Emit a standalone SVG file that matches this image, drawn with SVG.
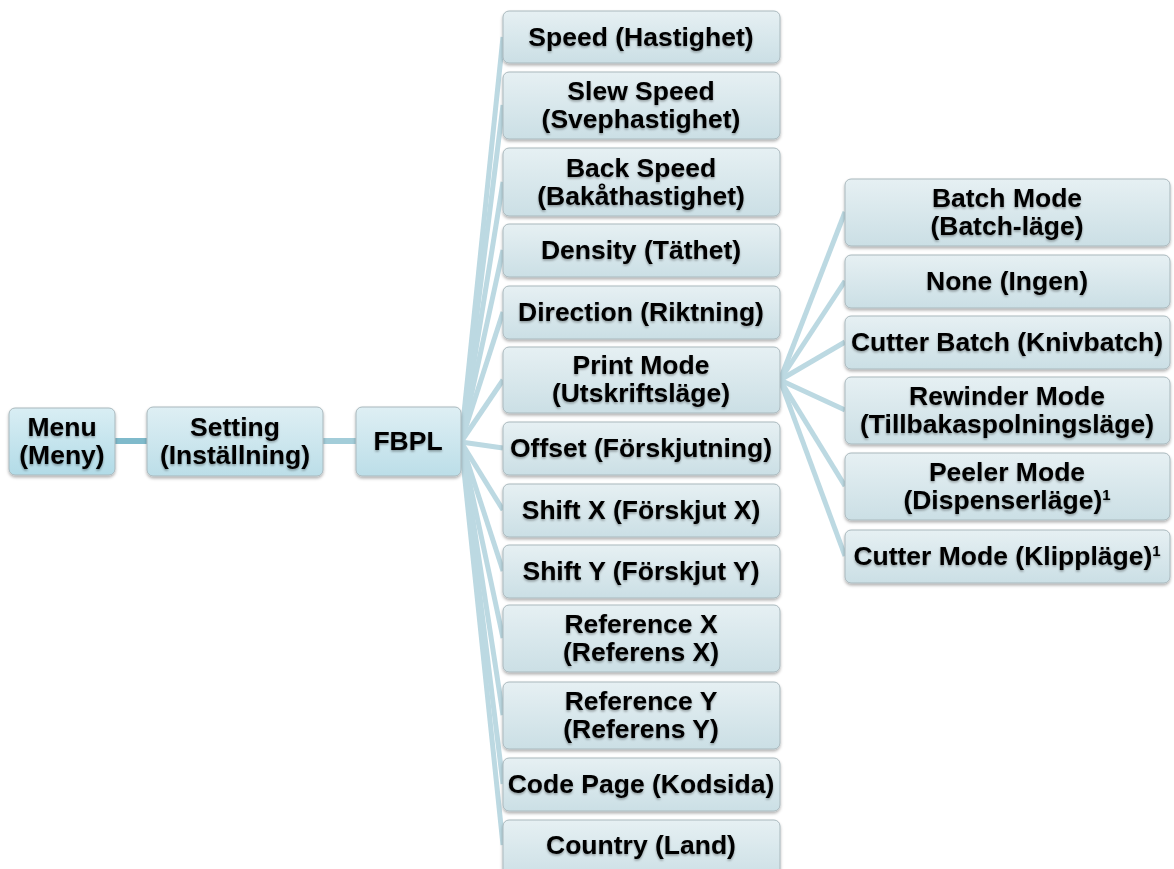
<svg xmlns="http://www.w3.org/2000/svg" width="1174" height="869" viewBox="0 0 1174 869">
<defs>
<linearGradient id="gTop" x1="0" y1="0" x2="0" y2="1">
<stop offset="0" stop-color="#d9eef4"/>
<stop offset="1" stop-color="#b2dbe7"/>
</linearGradient>
<linearGradient id="gMid" x1="0" y1="0" x2="0" y2="1">
<stop offset="0" stop-color="#deeff4"/>
<stop offset="1" stop-color="#bcdee8"/>
</linearGradient>
<linearGradient id="gLeaf" x1="0" y1="0" x2="0" y2="1">
<stop offset="0" stop-color="#e6f0f3"/>
<stop offset="1" stop-color="#cbdfe5"/>
</linearGradient>
<filter id="sh" x="-10%" y="-20%" width="120%" height="150%">
<feDropShadow dx="0" dy="2" stdDeviation="1.5" flood-color="#000" flood-opacity="0.3"/>
</filter>
<filter id="tsh" x="-5%" y="-20%" width="110%" height="150%">
<feDropShadow dx="0" dy="1.5" stdDeviation="1.3" flood-color="#000" flood-opacity="0.35"/>
</filter>
</defs>
<style>
.box{stroke:#a9b8bd;stroke-width:1;filter:url(#sh)}
.top{fill:url(#gTop)}
.mid{fill:url(#gMid)}
.leaf{fill:url(#gLeaf)}
text{font-family:"Liberation Sans",Arial,sans-serif;font-weight:bold;font-size:26.5px;fill:#000;text-anchor:middle;filter:url(#tsh)}
.sup{font-size:15px}
.c1{stroke:#7fbacb;stroke-width:6;fill:none}
.c2{stroke:#a3cdd9;stroke-width:6;fill:none}
.c3{stroke:#bcd9e2;stroke-width:5;fill:none}
</style>
<rect width="1174" height="869" fill="#fff"/>
<g id="connectors">
<line class="c1" x1="115" y1="441" x2="147" y2="441"/>
<line class="c2" x1="323" y1="441" x2="356" y2="441"/>
<line class="c3" x1="461" y1="442" x2="503" y2="37"/>
<line class="c3" x1="461" y1="442" x2="503" y2="105"/>
<line class="c3" x1="461" y1="442" x2="503" y2="182"/>
<line class="c3" x1="461" y1="442" x2="503" y2="250"/>
<line class="c3" x1="461" y1="442" x2="503" y2="312"/>
<line class="c3" x1="461" y1="442" x2="503" y2="380"/>
<line class="c3" x1="461" y1="442" x2="503" y2="448"/>
<line class="c3" x1="461" y1="442" x2="503" y2="510"/>
<line class="c3" x1="461" y1="442" x2="503" y2="571"/>
<line class="c3" x1="461" y1="442" x2="503" y2="638"/>
<line class="c3" x1="461" y1="442" x2="503" y2="715"/>
<line class="c3" x1="461" y1="442" x2="503" y2="784"/>
<line class="c3" x1="461" y1="442" x2="503" y2="845"/>
<line class="c3" x1="780" y1="380" x2="845" y2="212"/>
<line class="c3" x1="780" y1="380" x2="845" y2="281"/>
<line class="c3" x1="780" y1="380" x2="845" y2="342"/>
<line class="c3" x1="780" y1="380" x2="845" y2="410"/>
<line class="c3" x1="780" y1="380" x2="845" y2="486"/>
<line class="c3" x1="780" y1="380" x2="845" y2="556"/>
</g>
<g id="menu"><rect class="box top" x="9" y="408" width="106" height="67" rx="6"/><text x="62" y="436">Menu</text><text x="62" y="464">(Meny)</text></g>
<g id="setting"><rect class="box mid" x="147" y="407" width="176" height="69" rx="6"/><text x="235" y="436">Setting</text><text x="235" y="464">(Inställning)</text></g>
<g id="fbpl"><rect class="box mid" x="356" y="407" width="105" height="69" rx="6"/><text x="408" y="450">FBPL</text></g>
<g id="speed"><rect class="box leaf" x="503" y="11" width="277" height="52" rx="6"/><text x="641" y="46">Speed (Hastighet)</text></g>
<g id="slew"><rect class="box leaf" x="503" y="72" width="277" height="67" rx="6"/><text x="641" y="100">Slew Speed</text><text x="641" y="128">(Svephastighet)</text></g>
<g id="back"><rect class="box leaf" x="503" y="148" width="277" height="68" rx="6"/><text x="641" y="177">Back Speed</text><text x="641" y="205">(Bakåthastighet)</text></g>
<g id="density"><rect class="box leaf" x="503" y="224" width="277" height="53" rx="6"/><text x="641" y="259">Density (Täthet)</text></g>
<g id="direction"><rect class="box leaf" x="503" y="286" width="277" height="53" rx="6"/><text x="641" y="321">Direction (Riktning)</text></g>
<g id="printmode"><rect class="box leaf" x="503" y="347" width="277" height="66" rx="6"/><text x="641" y="374">Print Mode</text><text x="641" y="402">(Utskriftsläge)</text></g>
<g id="offset"><rect class="box leaf" x="503" y="422" width="277" height="53" rx="6"/><text x="641" y="457">Offset (Förskjutning)</text></g>
<g id="shiftx"><rect class="box leaf" x="503" y="484" width="277" height="53" rx="6"/><text x="641" y="519">Shift X (Förskjut X)</text></g>
<g id="shifty"><rect class="box leaf" x="503" y="545" width="277" height="53" rx="6"/><text x="641" y="580">Shift Y (Förskjut Y)</text></g>
<g id="refx"><rect class="box leaf" x="503" y="605" width="277" height="67" rx="6"/><text x="641" y="633">Reference X</text><text x="641" y="661">(Referens X)</text></g>
<g id="refy"><rect class="box leaf" x="503" y="682" width="277" height="67" rx="6"/><text x="641" y="710">Reference Y</text><text x="641" y="738">(Referens Y)</text></g>
<g id="codepage"><rect class="box leaf" x="503" y="758" width="277" height="53" rx="6"/><text x="641" y="793">Code Page (Kodsida)</text></g>
<g id="country"><rect class="box leaf" x="503" y="820" width="277" height="60" rx="6"/><text x="641" y="854">Country (Land)</text></g>
<g id="batch"><rect class="box leaf" x="845" y="179" width="325" height="67" rx="6"/><text x="1007" y="207">Batch Mode</text><text x="1007" y="235">(Batch-läge)</text></g>
<g id="none"><rect class="box leaf" x="845" y="255" width="325" height="53" rx="6"/><text x="1007" y="290">None (Ingen)</text></g>
<g id="cutterbatch"><rect class="box leaf" x="845" y="316" width="325" height="53" rx="6"/><text x="1007" y="351">Cutter Batch (Knivbatch)</text></g>
<g id="rewinder"><rect class="box leaf" x="845" y="377" width="325" height="67" rx="6"/><text x="1007" y="405">Rewinder Mode</text><text x="1007" y="433">(Tillbakaspolningsläge)</text></g>
<g id="peeler"><rect class="box leaf" x="845" y="453" width="325" height="67" rx="6"/><text x="1007" y="481">Peeler Mode</text><text x="1007" y="509">(Dispenserläge)<tspan class="sup" dy="-9">1</tspan></text></g>
<g id="cuttermode"><rect class="box leaf" x="845" y="530" width="325" height="53" rx="6"/><text x="1007" y="565">Cutter Mode (Klippläge)<tspan class="sup" dy="-9">1</tspan></text></g>
</svg>
